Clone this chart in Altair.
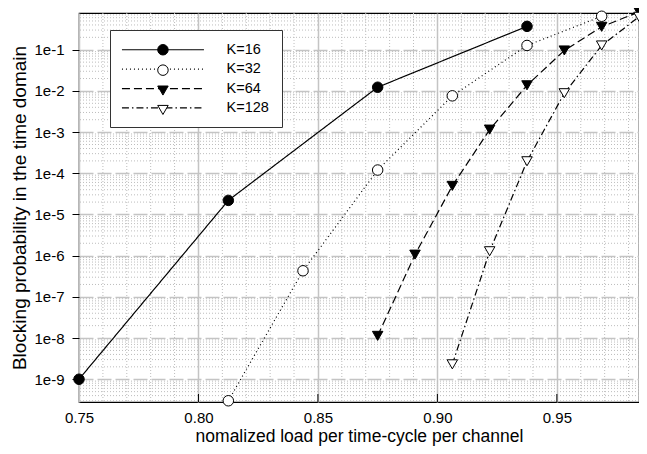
import altair as alt
import pandas as pd

labels = ["K=16", "K=32", "K=64", "K=128"]
marker_keys = ["p16", "p32", "p64", "p128"]

x16 = [0.75, 0.8125, 0.875, 0.9375]
y16 = [1.0e-9, 2.2e-5, 1.23e-2, 0.37]
x32 = [0.8125, 0.84375, 0.875, 0.90625, 0.9375, 0.96875]
y32 = [3.0e-10, 4.3e-7, 1.2e-4, 7.6e-3, 0.127, 0.65]
x64 = [0.875, 0.890625, 0.90625, 0.921875, 0.9375, 0.953125, 0.96875, 0.984375]
y64 = [1.13e-8, 1.06e-6, 4.95e-5, 1.15e-3, 1.37e-2, 9.6e-2, 0.36, 0.83]
x128 = [0.90625, 0.921875, 0.9375, 0.953125, 0.96875, 0.984375]
y128 = [2.3e-9, 1.28e-6, 1.96e-4, 8.8e-3, 0.127, 0.63]

x_ticks = [0.75, 0.80, 0.85, 0.90, 0.95]
y_ticks = [1e-9, 1e-8, 1e-7, 1e-6, 1e-5, 1e-4, 1e-3, 1e-2, 1e-1]

x_domain = [0.75, 0.984375]
y_domain = [2.8e-10, 0.78]

rows = []
for lab, mk, xs, ys in zip(labels, marker_keys, [x16, x32, x64, x128], [y16, y32, y64, y128]):
    for a, b in zip(xs, ys):
        rows.append({"load": a, "prob": b, "K": lab, "Kp": mk})
df = pd.DataFrame(rows)

# minor grid positions (decoration)
x_minor = [round(0.75 + 0.01 * i, 2) for i in range(1, 24)]
x_minor = [v for v in x_minor if round(v * 100) % 5 != 0]
y_minor = [k * 10.0 ** n for n in range(-10, 0) for k in range(2, 10)]
y_minor = [v for v in y_minor if y_domain[0] <= v <= y_domain[1]]

PAD_L, PAD_T, PAD_R, PAD_B = 71, 5, 0, 44
W, H = 560, 389
xscale = alt.Scale(domain=x_domain, nice=False, zero=False)
yscale = alt.Scale(type="log", domain=y_domain, nice=False)

xaxis = alt.Axis(values=x_ticks, format=".2f", title="nomalized load per time-cycle per channel",
                 grid=True, gridColor="#c4c4c4", gridWidth=1.5, ticks=False, domain=False,
                 labelFlush=False, labelFontSize=15, labelPadding=8, titleFontSize=17.5, titlePadding=2,
                 labelColor="black", titleColor="black", titleFontWeight="normal")
yaxis = alt.Axis(values=y_ticks, labelExpr="'1e' + round(log(datum.value)/LN10)",
                 title="Blocking probability in the time domain",
                 grid=True, gridColor="#c4c4c4", gridWidth=1.5, gridDash=[14, 4],
                 ticks=True, tickSize=7, tickColor="black", domain=False,
                 labelFontSize=15, labelPadding=8, titleFontSize=19, titlePadding=4,
                 labelColor="black", titleColor="black", titleFontWeight="normal")

X = alt.X("load:Q", scale=xscale, axis=xaxis)
Y = alt.Y("prob:Q", scale=yscale, axis=yaxis)

minor_x = alt.Chart(pd.DataFrame({"load": x_minor})).mark_rule(
    color="#bdbdbd", strokeWidth=1, strokeDash=[1, 2]).encode(x=X)
minor_y = alt.Chart(pd.DataFrame({"prob": y_minor})).mark_rule(
    color="#bdbdbd", strokeWidth=1, strokeDash=[1, 2]).encode(y=Y)

dash_range = [[1, 0], [1, 3], [8, 4], [7, 3, 1.5, 3]]

# shared legend geometry: both legends sit at the same place with the same rows
LEG = dict(orient="none", legendX=31, legendY=17, title=None,
           labelOffset=89.5, labelFontSize=14.5,
           padding=12.5, rowPadding=4.4)

line_legend = alt.Legend(
    **LEG,
    labelExpr="datum.label + ' '",
    symbolType="M-1.56,0H14.84", symbolSize=100,
    symbolStrokeColor="black", symbolFillColor="transparent", symbolStrokeWidth=1.2,
    labelColor="black", strokeColor="#333333", fillColor="white", zindex=1,
)

point_legend = alt.Legend(
    **LEG,
    labelExpr="' '",
    symbolSize=110, symbolStrokeWidth=1, symbolOffset=33.2,
    labelColor="transparent", zindex=3,
)

lines = alt.Chart(df).mark_line(color="black", strokeWidth=1.2).encode(
    x=X, y=Y,
    strokeDash=alt.StrokeDash("K:N", scale=alt.Scale(domain=labels, range=dash_range),
                              legend=line_legend),
    order="load:Q",
)

points = alt.Chart(df).mark_point(filled=True, size=110, opacity=1).encode(
    x=X, y=Y,
    shape=alt.Shape("Kp:N", scale=alt.Scale(domain=marker_keys,
                    range=["circle", "circle", "triangle-down", "triangle-down"]),
                    legend=point_legend),
    fill=alt.Fill("Kp:N", scale=alt.Scale(domain=marker_keys, range=["black", "white", "black", "white"]),
                  legend=point_legend),
    stroke=alt.value("black"),
    strokeWidth=alt.value(1),
)

xticks_in = alt.Chart(pd.DataFrame({"load": x_ticks[1:]})).mark_rule(
    color="black", strokeWidth=1).encode(x=X, y=alt.value(H), y2=alt.value(H - 8))

chart = alt.layer(minor_x, minor_y, lines, points, xticks_in).properties(
    width=W, height=H,
    autosize=alt.AutoSizeParams(type="none"),
    padding={"left": PAD_L, "top": PAD_T, "right": PAD_R, "bottom": PAD_B},
).configure(font="Liberation Sans").configure_view(stroke="black", strokeWidth=1.2)

chart.save("out.html", embed_options={"renderer": "svg", "actions": False})
